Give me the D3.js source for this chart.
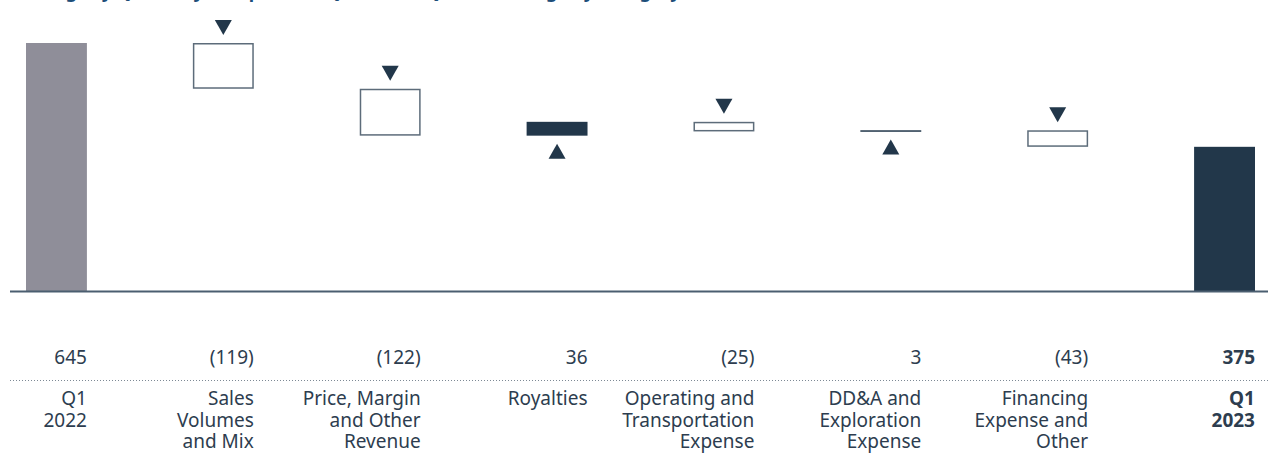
<!DOCTYPE html>
<html>
<head>
<meta charset="utf-8">
<script src="https://cdn.jsdelivr.net/npm/d3@7"></script>
<style>
  html, body { margin: 0; padding: 0; background: #fff; }
  svg { display: block; font-family: "Noto Sans", "Open Sans", sans-serif; }
</style>
</head>
<body>
<svg id="chart" width="1268" height="454"></svg>
<script>
// ---- data ----
const categories = [
  ["Q1", "2022"],
  ["Sales", "Volumes", "and Mix"],
  ["Price, Margin", "and Other", "Revenue"],
  ["Royalties"],
  ["Operating and", "Transportation", "Expense"],
  ["DD&A and", "Exploration", "Expense"],
  ["Financing", "Expense and", "Other"],
  ["Q1", "2023"]
];
const kinds = ["start", "delta", "delta", "delta", "delta", "delta", "delta", "end"];
const values = [645, -119, -122, 36, -25, 3, -43, 375];
const valueLabels = ["645", "(119)", "(122)", "36", "(25)", "3", "(43)", "375"];
const titleText = "Earnings by Quarterly Comparison: Q1 2023 vs Q1 2022 Change by Category";

// ---- build steps ----
let running = 0;
const steps = values.map((v, i) => {
  let y0, y1;
  if (kinds[i] === "start" || kinds[i] === "end") { y0 = 0; y1 = v; running = v; }
  else { y0 = running; y1 = running + v; running = y1; }
  return { i, v, kind: kinds[i], y0, y1, label: valueLabels[i], cat: categories[i] };
});

const svg = d3.select("#chart");
const W = 1268;
const dark = "#22374a", grey = "#8f8e99", textCol = "#2d3d4f", boxStroke = "#5d6c7a";
const fs = 19;

const x = d3.scaleBand().domain(d3.range(categories.length)).range([26, 1255])
  .paddingInner(0.635).paddingOuter(0);
const y = d3.scaleLinear().domain([0, d3.max(values)]).range([291, 43]);

// title (clipped at top, as in the source image)
svg.append("text").attr("x", 8).attr("y", -2)
  .attr("font-size", 18).attr("font-weight", 700).attr("fill", "#1d4e79")
  .text(titleText);

// bars
steps.forEach(s => {
  const top = y(Math.max(s.y0, s.y1));
  const bot = y(Math.min(s.y0, s.y1));
  const h = Math.max(bot - top, 1.5);
  const bx = x(s.i), bw = x.bandwidth();
  if (s.kind === "start") {
    svg.append("rect").attr("x", bx).attr("y", top).attr("width", bw).attr("height", h).attr("fill", grey);
  } else if (s.kind === "end") {
    svg.append("rect").attr("x", bx).attr("y", top).attr("width", bw).attr("height", h).attr("fill", dark);
  } else if (s.v < 0) {
    svg.append("rect").attr("x", bx + 0.75).attr("y", top + 0.75).attr("width", bw - 1.5).attr("height", h - 1.5)
      .attr("fill", "#fff").attr("stroke", boxStroke).attr("stroke-width", 1.5);
  } else {
    svg.append("rect").attr("x", bx).attr("y", top).attr("width", bw).attr("height", h).attr("fill", dark);
  }
  // triangles
  if (s.kind === "delta") {
    const cx = bx + bw / 2, tw = 17, th = 15, gap = 8;
    let p;
    if (s.v < 0) {
      const ay = top - gap; // apex
      p = [[cx - tw/2, ay - th], [cx + tw/2, ay - th], [cx, ay]];
    } else {
      const ay = bot + gap;
      p = [[cx - tw/2, ay + th], [cx + tw/2, ay + th], [cx, ay]];
    }
    svg.append("path").attr("d", d3.line()(p) + "Z").attr("fill", dark);
  }
});

// baseline
svg.append("line").attr("x1", 10).attr("x2", W).attr("y1", y(0) + 0.5).attr("y2", y(0) + 0.5)
  .attr("stroke", "#4b5e70").attr("stroke-width", 2);

// value labels
svg.selectAll("text.val").data(steps).join("text").attr("class", "val")
  .attr("x", d => x(d.i) + x.bandwidth()).attr("y", 364)
  .attr("text-anchor", "end").attr("font-size", fs).attr("fill", textCol)
  .attr("font-weight", d => d.kind === "end" ? 700 : 400)
  .text(d => d.label);

// dotted separator
svg.append("line").attr("x1", 10).attr("x2", W).attr("y1", 380.5).attr("y2", 380.5)
  .attr("stroke", "#7d8995").attr("stroke-width", 1).attr("stroke-dasharray", "1,2");

// category labels
steps.forEach(s => {
  const t = svg.append("text").attr("x", x(s.i) + x.bandwidth()).attr("y", 405)
    .attr("text-anchor", "end").attr("font-size", fs).attr("fill", textCol)
    .attr("font-weight", s.kind === "end" ? 700 : 400);
  s.cat.forEach((line, k) => {
    t.append("tspan").attr("x", x(s.i) + x.bandwidth()).attr("dy", k === 0 ? 0 : 21.5).text(line);
  });
});
</script>
</body>
</html>
